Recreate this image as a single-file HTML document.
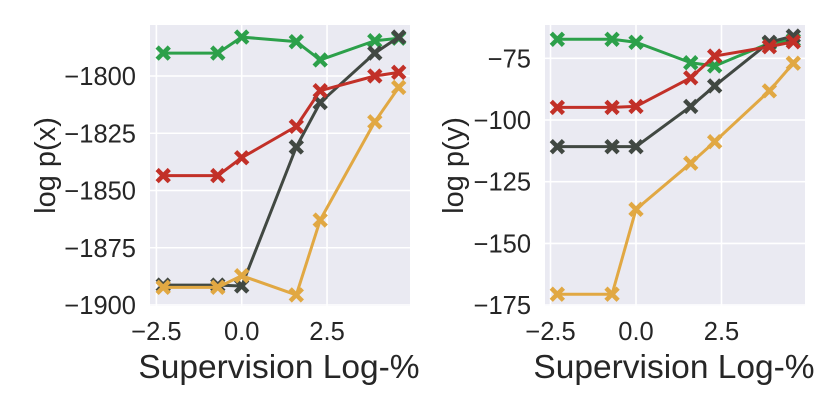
<!DOCTYPE html>
<html><head><meta charset="utf-8">
<style>
body{margin:0;background:#fff;}
svg{display:block;font-family:"Liberation Sans",sans-serif;}
</style></head>
<body>
<svg id="chart" width="830" height="415"></svg>
<script>
const xVals = [-2.3, -0.7, 0, 1.6, 2.3, 3.9, 4.6];
const xTicks = [-2.5, 0.0, 2.5];
const xTickLabels = ["\u22122.5", "0.0", "2.5"];
const seriesNames = ["green", "dark", "red", "yellow"];
const colors = ["#2ca04a", "#414842", "#c23028", "#e1a843"];
const leftGreen = [-1790, -1790, -1783, -1785, -1793, -1784.6, -1783.5];
const leftDark = [-1891.3, -1891.3, -1891.7, -1831, -1811.6, -1790, -1783];
const leftRed = [-1843.5, -1843.5, -1835.7, -1822, -1806.4, -1800, -1798.4];
const leftYellow = [-1892.3, -1892.3, -1887.2, -1895.6, -1862.9, -1820, -1805];
const leftYTicks = [-1800, -1825, -1850, -1875, -1900];
const rightGreen = [-67.3, -67.3, -68.5, -76.8, -78.1, -68.9, -67.6];
const rightDark = [-110.8, -110.8, -110.8, -94.5, -86.2, -68.5, -66];
const rightRed = [-94.9, -94.9, -94.5, -82.9, -74.1, -70.3, -68.3];
const rightYellow = [-170.6, -170.6, -136.2, -117.5, -108.8, -88.2, -77];
const rightYTicks = [-75, -100, -125, -150, -175];

const NS = "http://www.w3.org/2000/svg";
const svg = document.getElementById("chart");
function mk(tag, attrs, parent){
  const e = document.createElementNS(NS, tag);
  for (const k in attrs) e.setAttribute(k, attrs[k]);
  (parent||svg).appendChild(e);
  return e;
}
function panel(cfg){
  const g = mk("g", {});
  
  
  const sx = v => cfg.x0px + (v - 0) * cfg.xScale;
  const sy = v => cfg.yRefPx + (cfg.yRef - v) * cfg.yScale;
  const bg = mk("rect", {x: cfg.left, y: cfg.top, width: cfg.right - cfg.left, height: cfg.bottom - cfg.top, fill: "#eaeaf2"}, g);
  
  
  xTicks.forEach((t, i) => {
    const x = sx(t);
    const gl = mk("line", {x1: x, x2: x, y1: cfg.top, y2: cfg.bottom, stroke: "#fff", "stroke-width": 1.6}, g);
    
    
    const tl = mk("text", {x: x, y: 340, "text-anchor": "middle", "font-size": 25.5, fill: "#262626"}, g);
    tl.textContent = xTickLabels[i];
    
    
  });
  cfg.yTicks.forEach(t => {
    const y = sy(t);
    const gl = mk("line", {x1: cfg.left, x2: cfg.right, y1: y, y2: y, stroke: "#fff", "stroke-width": 1.6}, g);
    
    
    const tl = mk("text", {x: cfg.left - 14, y: y + 9, "text-anchor": "end", "font-size": 25.5, fill: "#262626"}, g);
    tl.textContent = String(t).replace("-", "\u2212");
    
    
  });
  cfg.series.forEach((vals, si) => {
    const pts = vals.map((v, i) => sx(xVals[i]) + "," + sy(v)).join(" ");
    const pl = mk("polyline", {points: pts, fill: "none", stroke: colors[si], "stroke-width": 3, "stroke-linejoin": "round"}, g);
    
    
    vals.forEach((v, i) => {
      const x = sx(xVals[i]), y = sy(v), d = 4.5;
      const m = mk("path", {d: `M${x-d},${y-d}L${x+d},${y+d}M${x-d},${y+d}L${x+d},${y-d}`, stroke: colors[si], "stroke-width": 4.5, "stroke-linecap": "square", fill: "none"}, g);
      
      
    });
  });
  const xl = mk("text", {x: cfg.titleX, y: 378, "text-anchor": "middle", "font-size": 33.5, fill: "#262626"}, g);
  xl.textContent = "Supervision Log-%";
  
  
  const yl = mk("text", {x: 0, y: 0, "text-anchor": "middle", "font-size": 29, fill: "#262626", transform: `translate(${cfg.ylabelX},${(cfg.top + cfg.bottom) / 2}) rotate(-90)`}, g);
  yl.textContent = cfg.ylabel;
  
  
}
panel({name: "left-panel", left: 150, right: 410, top: 25, bottom: 306, x0px: 241.7, xScale: 34.13,
  yRef: -1800, yRefPx: 76, yScale: 57.25 / 25, yTicks: leftYTicks, ylabel: "log p(x)", ylabelX: 55, titleX: 279,
  series: [leftGreen, leftDark, leftRed, leftYellow]});
panel({name: "right-panel", left: 545, right: 805, top: 25, bottom: 306, x0px: 636, xScale: 34.2,
  yRef: -75, yRefPx: 58.3, yScale: 61.7 / 25, yTicks: rightYTicks, ylabel: "log p(y)", ylabelX: 463, titleX: 674,
  series: [rightGreen, rightDark, rightRed, rightYellow]});
</script>
</body></html>
